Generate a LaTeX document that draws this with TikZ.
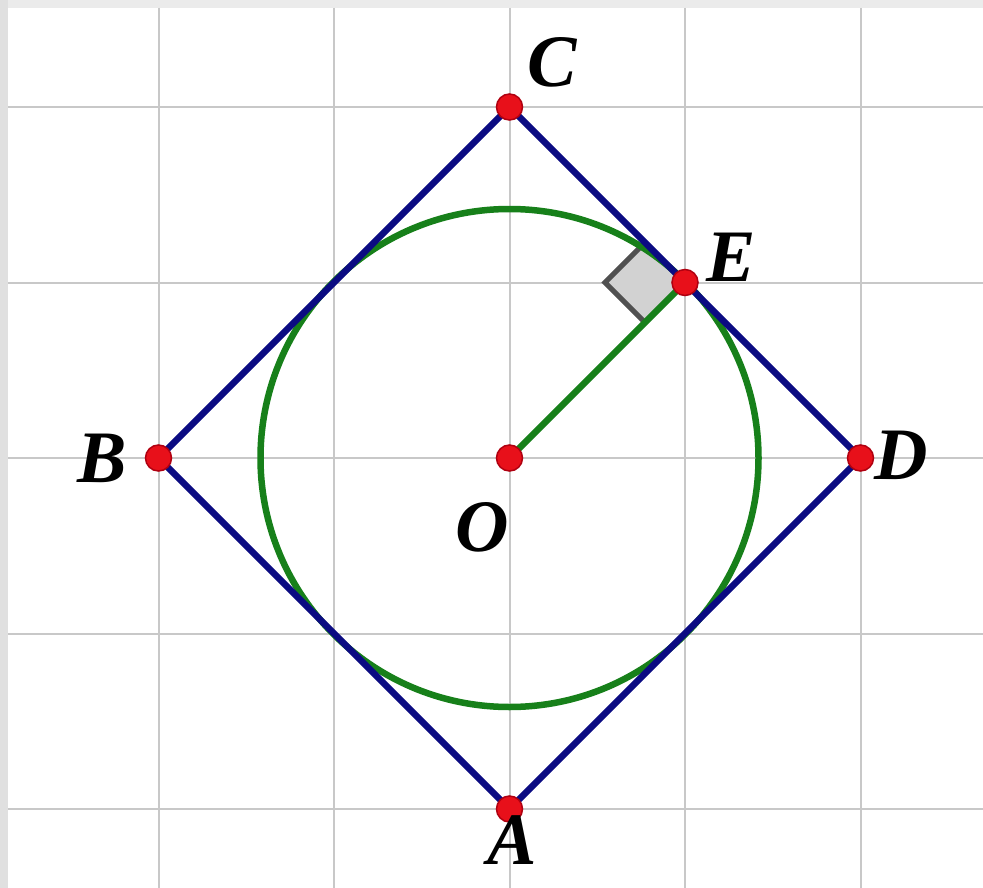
\documentclass[tikz,border=0pt]{standalone}
\usepackage{fontspec}
\usetikzlibrary{calc}
\setmainfont{Liberation Serif}
\definecolor{gridgray}{HTML}{C8C8C8}
\definecolor{navyline}{HTML}{0B0B82}
\definecolor{circgreen}{HTML}{17801A}
\definecolor{dotred}{HTML}{E8101A}
\definecolor{dotedge}{HTML}{B00010}
\definecolor{markfill}{HTML}{D2D2D2}
\definecolor{markedge}{HTML}{505050}
\tikzset{
  gridline/.style={draw=gridgray, line width=2pt},
  sqline/.style={draw=navyline, line width=6.5pt, line join=miter},
  greenline/.style={draw=circgreen, line width=6.5pt},
  ptdot/.style={circle, fill=dotred, draw=dotedge, line width=1.5pt, minimum size=26pt, inner sep=0pt},
  lbl/.style={font=\fontsize{74}{74}\selectfont\bfseries\itshape, inner sep=0pt, text=black}
}
\begin{document}
\begin{tikzpicture}[x=1pt,y=-1pt]
\useasboundingbox (0,0) rectangle (983,888);
\fill[white] (0,0) rectangle (983,888);
\fill[black!12] (0,0) rectangle (8,888);
\fill[black!8] (8,0) rectangle (983,8);
% grid
\foreach \gx in {158.5,334,509.5,685,860.5} \draw[gridline] (\gx,8) -- (\gx,888);
\foreach \gy in {107,282.5,458,633.5,809} \draw[gridline] (8,\gy) -- (983,\gy);
% points
\coordinate (C) at (509.5,107);
\coordinate (D) at (860.5,458);
\coordinate (A) at (509.5,809);
\coordinate (B) at (158.5,458);
\coordinate (O) at (509.5,458);
\coordinate (E) at (685,282.5);
% right angle marker
\coordinate (M1) at ($(E)+(-40,-40)$);
\coordinate (M2) at ($(E)+(-80,0)$);
\coordinate (M3) at ($(E)+(-40,40)$);
\fill[markfill] (E) -- (M1) -- (M2) -- (M3) -- cycle;
\draw[markedge, line width=5pt] (M1) -- (M2) -- (M3);
% circle and radius
\draw[greenline] (O) circle[radius=249];
\draw[greenline] (O) -- (E);
% square
\draw[sqline] (A) -- (B) -- (C) -- (D) -- cycle;
% dots
\foreach \p in {A,B,C,D,E,O} \node[ptdot] (dot\p) at (\p) {};
% labels
\node[lbl] (lC) at (552,62) {C};
\node[lbl] (lE) at (731,257) {E};
\node[lbl] (lD) at (901,455) {D};
\node[lbl] (lB) at (102,458) {B};
\node[lbl] (lO) at (482,527) {O};
\node[lbl] (lA) at (512,840) {A};
\end{tikzpicture}
\end{document}
